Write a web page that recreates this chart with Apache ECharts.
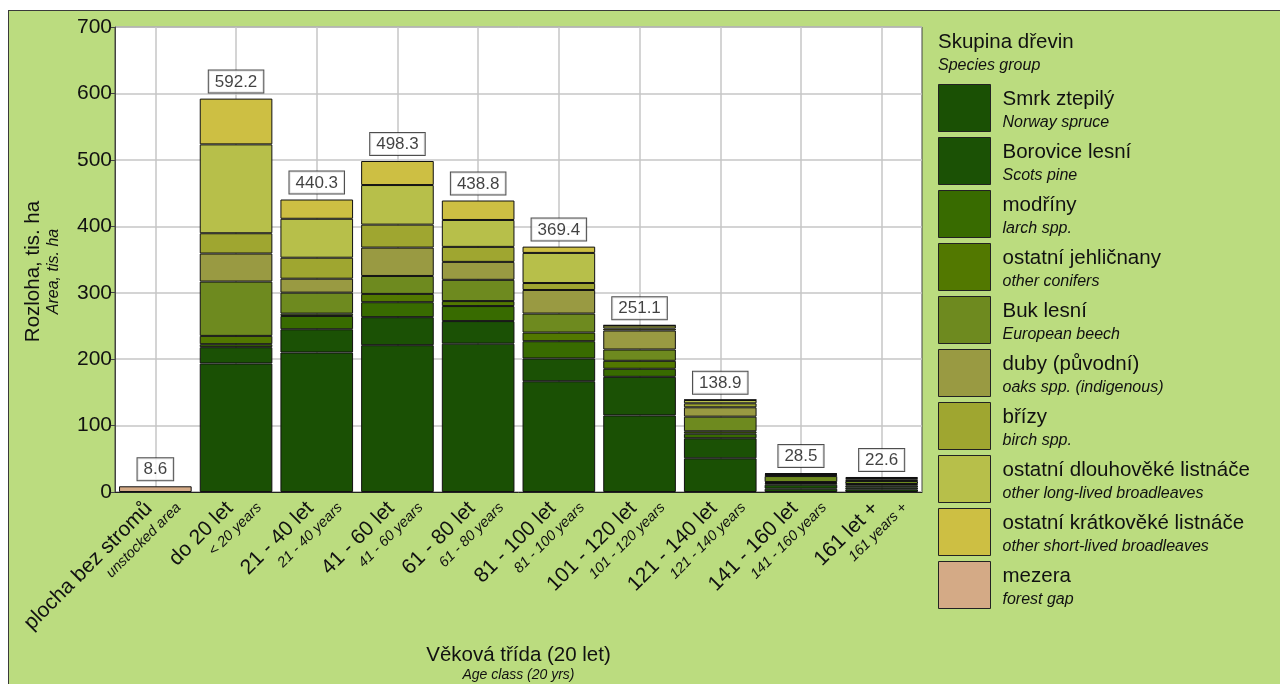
<!DOCTYPE html>
<html><head><meta charset="utf-8">
<script src="https://cdn.jsdelivr.net/npm/echarts@6/dist/echarts.min.js"></script>
<style>
html,body{margin:0;padding:0;background:#fff;width:1280px;height:684px;overflow:hidden;}
#frame{position:absolute;left:8px;top:10px;width:1272px;height:674px;background:#bbdc7f;border-left:1px solid #3a3a3a;border-top:1px solid #3a3a3a;box-sizing:border-box;}
#chart{position:absolute;left:0;top:0;width:1271px;height:673px;}
</style></head>
<body><div id="frame"><div id="chart"></div></div>
<script>
const categoriesCz = ["plocha bez stromů","do 20 let","21 - 40 let","41 - 60 let","61 - 80 let","81 - 100 let","101 - 120 let","121 - 140 let","141 - 160 let","161 let +"];
const categoriesEn = ["unstocked area","< 20 years","21 - 40 years","41 - 60 years","61 - 80 years","81 - 100 years","101 - 120 years","121 - 140 years","141 - 160 years","161 years +"];
const totals = [8.6,592.2,440.3,498.3,438.8,369.4,251.1,138.9,28.5,22.6];

const smrk     = ['-',193.5,210,221,223.3,166.7,115.3,50.7,5,4];
const borovice = ['-',24.5,35,42.2,34,34.3,58.1,30.2,6,3];
const modriny  = ['-',4.5,20,22.5,22.6,26,12.1,6.9,2.5,3];
const ostJehl  = ['-',12.5,3.5,12.5,7.5,13,12,3.6,1.5,2];
const buk      = ['-',81.8,31.6,27,32,28.6,17,22,9,4.6];
const duby     = ['-',42.2,21,42.7,27,35.5,28.6,14.1,2,2.5];
const brizy    = ['-',30.5,31.6,34.6,22.6,10.5,3,6,1,2];
const dlouh    = ['-',133.8,58.6,59.6,40.5,45.3,4.5,5,1.5,1.5];
const kratk    = ['-',68.9,29.0,36.2,29.3,9.5,0.5,0.4,'-','-'];
const mezera   = [8.6,'-','-','-','-','-','-','-','-','-'];

const seriesNamesCz = ["Smrk ztepilý","Borovice lesní","modříny","ostatní jehličnany","Buk lesní","duby (původní)","břízy","ostatní dlouhověké listnáče","ostatní krátkověké listnáče","mezera"];
const seriesNamesEn = ["Norway spruce","Scots pine","larch spp.","other conifers","European beech","oaks spp. (indigenous)","birch spp.","other long-lived broadleaves","other short-lived broadleaves","forest gap"];
const seriesData = [smrk,borovice,modriny,ostJehl,buk,duby,brizy,dlouh,kratk,mezera];
const colors = ["#1a5004","#1b5105","#386b00","#527800","#6e8a1f","#999a42","#9fa630","#b7bf4a","#cdbf43","#d4aa86"];

const chart = echarts.init(document.getElementById('chart'), null, {renderer:'canvas'});
const FONT = 'Liberation Sans, Arial, sans-serif';

const barSeries = seriesNamesCz.map((n,i)=>({
  name:n, type:'bar', stack:'total', data:seriesData[i], barCategoryGap:'10%',
  itemStyle:{color:colors[i], borderColor:'#111', borderWidth:1},
  emphasis:{disabled:true}, z:3
}));

const enByCz = {};
seriesNamesCz.forEach((n,i)=>enByCz[n]=seriesNamesEn[i]);

chart.setOption({
  animation:false,
  textStyle:{fontFamily:FONT},
  title:{
    text:'Skupina dřevin', subtext:'Species group', left:924, top:16, itemGap:5,
    textStyle:{fontFamily:FONT,fontSize:20.5,fontWeight:'normal',color:'#111'},
    subtextStyle:{fontFamily:FONT,fontSize:16,fontStyle:'italic',color:'#111'}
  },
  legend:{
    orient:'vertical', left:924, top:68, itemWidth:52, itemHeight:47, itemGap:5,
    icon:'rect', selectedMode:false,
    data:seriesNamesCz,
    itemStyle:{borderColor:'#222',borderWidth:1},
    formatter:n=>'{a|'+n+'}\n{b|'+enByCz[n]+'}',
    textStyle:{fontFamily:FONT,color:'#111',padding:[6,0,0,7],
      rich:{a:{fontSize:20.5,lineHeight:23,fontFamily:FONT,color:'#111'},
            b:{fontSize:16,lineHeight:23,fontStyle:'italic',fontFamily:FONT,color:'#111'}}}
  },
  grid:{left:106,top:16,width:807,height:465,show:true,backgroundColor:'#fff',borderColor:'#444',borderWidth:1,containLabel:false,outerBoundsMode:'none'},
  xAxis:{
    type:'category', data:categoriesCz,
    axisLine:{lineStyle:{color:'#222',width:1}},
    axisTick:{show:false},
    splitLine:{show:false},
    axisLabel:{interval:0, rotate:45, margin:-10, align:'right', verticalAlign:'top', color:'#111',
      formatter:(v,idx)=>'{a|'+v+'}\n{b|'+categoriesEn[idx]+'}',
      rich:{a:{fontSize:21,fontFamily:FONT,color:'#111',lineHeight:24,padding:[0,21,0,0]},
            b:{fontSize:14.5,fontStyle:'italic',fontFamily:FONT,color:'#111',lineHeight:18}}},
    name:'{a|Věková třída (20 let)}\n{b|Age class (20 yrs)}',
    nameLocation:'middle', nameGap:153, nameMoveOverlap:false,
    nameTextStyle:{verticalAlign:'top',rich:{a:{fontSize:20.5,fontFamily:FONT,color:'#111',lineHeight:21,align:'center'},
                         b:{fontSize:14,fontStyle:'italic',fontFamily:FONT,color:'#111',lineHeight:18,align:'center'}}}
  },
  yAxis:{
    type:'value', min:0, max:700, interval:100,
    axisLine:{show:true,lineStyle:{color:'#444',width:1}},
    axisTick:{show:true,length:4,lineStyle:{color:'#444'}},
    splitLine:{show:true,lineStyle:{color:'#c6c6c6',width:1.5}},
    axisLabel:{fontSize:21,color:'#111',margin:3,fontFamily:FONT},
    name:'{a|Rozloha, tis. ha}\n{b|Area, tis. ha}',
    nameLocation:'middle', nameRotate:90, nameGap:52,
    nameTextStyle:{rich:{a:{fontSize:20.5,fontFamily:FONT,color:'#111',lineHeight:22,align:'center',padding:[0,24,0,0]},
                         b:{fontSize:16,fontStyle:'italic',fontFamily:FONT,color:'#111',lineHeight:19,align:'center',padding:[0,24,0,0]}}}
  },
  series:[
    ...barSeries,
    {
      name:'totals', type:'scatter', data:totals, symbolSize:0, z:6, silent:true,
      label:{show:true, position:'top', distance:6, formatter:p=>p.value.toFixed(1),
        fontSize:17, fontFamily:FONT, color:'#111', backgroundColor:'#fff',
        borderColor:'#222', borderWidth:1, padding:[3,6,2,6]},
      markLine:{silent:true, z:1, symbol:'none', label:{show:false},
        lineStyle:{color:'#c6c6c6',width:1.5,type:'solid'},
        data:categoriesCz.map(c=>({xAxis:c}))}
    }
  ]
});
</script></body></html>
